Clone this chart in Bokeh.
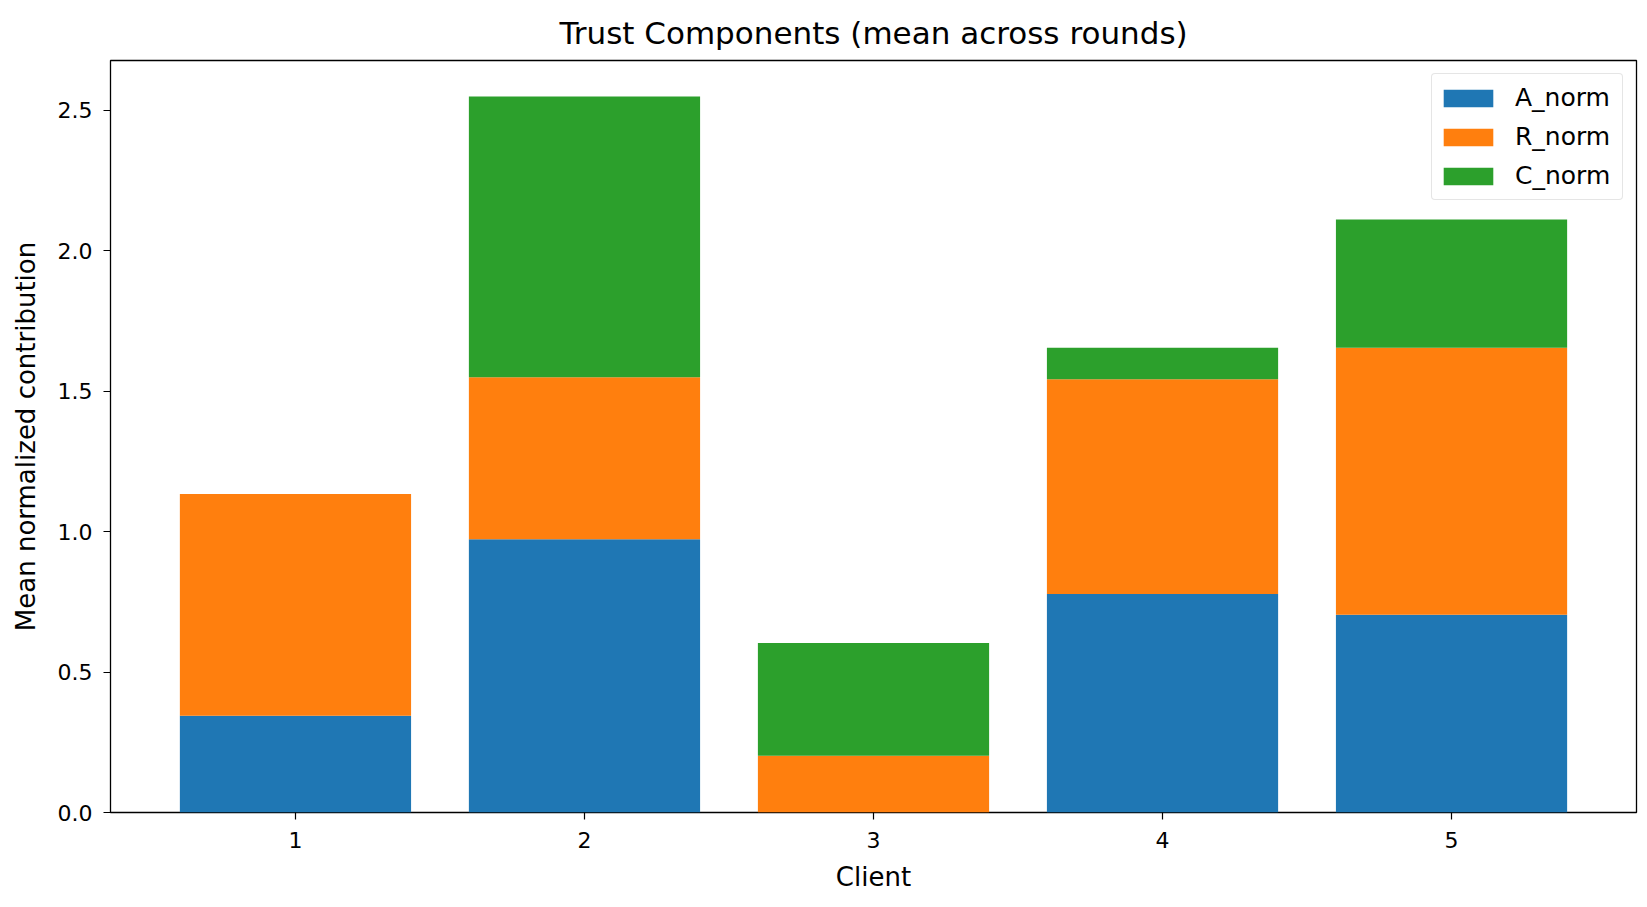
from bokeh.plotting import figure
from bokeh.models import ColumnDataSource, FixedTicker, Range1d, Legend, CustomJSTickFormatter
from bokeh.embed import file_html
from bokeh.resources import INLINE

clients = [1, 2, 3, 4, 5]
a_norm = [0.344, 0.973, 0.0, 0.778, 0.704]
r_norm = [0.790, 0.576, 0.202, 0.764, 0.950]
c_norm = [0.0, 1.000, 0.401, 0.112, 0.457]
series = ["A_norm", "R_norm", "C_norm"]
colors = ["#1f77b4", "#ff7f0e", "#2ca02c"]
y_ticks = [0.0, 0.5, 1.0, 1.5, 2.0, 2.5]

src = ColumnDataSource(dict(client=clients, A_norm=a_norm, R_norm=r_norm, C_norm=c_norm))

FONT = "DejaVu Sans"
p = figure(width=1639, height=899, output_backend="svg", toolbar_location=None,
           x_range=Range1d(0.36, 5.64), y_range=Range1d(0, 2.677),
           min_border_left=110, min_border_right=3, min_border_top=60, min_border_bottom=87)

p.title.text = "Trust Components (mean across rounds)"
p.title.text_font = FONT
p.title.text_font_size = "31px"
p.title.text_font_style = "normal"
p.title.align = "center"
p.title.text_color = "black"
p.title.standoff = 19

renderers = p.vbar_stack(series, x="client", width=0.8, source=src, color=colors, line_color=None)

p.xgrid.grid_line_color = None
p.ygrid.grid_line_color = None
p.outline_line_color = "black"
p.outline_line_width = 1.3
p.outline_line_alpha = 1.0

for ax in (p.xaxis[0], p.yaxis[0]):
    ax.axis_line_color = None
    ax.major_tick_line_color = "black"
    ax.major_tick_line_width = 1.2
    ax.major_tick_in = 0
    ax.major_tick_out = 7
    ax.minor_tick_line_color = None
    ax.major_label_text_font = FONT
    ax.major_label_text_font_size = "22px"
    ax.major_label_text_color = "black"
    ax.axis_label_text_font = FONT
    ax.axis_label_text_font_size = "26px"
    ax.axis_label_text_font_style = "normal"
    ax.axis_label_text_color = "black"

p.xaxis[0].ticker = FixedTicker(ticks=clients)
p.yaxis[0].ticker = FixedTicker(ticks=y_ticks)
p.yaxis[0].formatter = CustomJSTickFormatter(code="return tick.toFixed(1);")
p.xaxis[0].axis_label = "Client"
p.yaxis[0].axis_label = "Mean normalized contribution"
p.xaxis[0].major_label_standoff = 12
p.xaxis[0].axis_label_standoff = 11
p.yaxis[0].major_label_standoff = 11
p.yaxis[0].axis_label_standoff = 14

legend = Legend(items=[(s, [r]) for s, r in zip(series, renderers)], location="top_right")
legend.label_text_font = FONT
legend.label_text_font_size = "25px"
legend.label_text_color = "black"
legend.glyph_width = 62
legend.glyph_height = 22
legend.label_height = 37
legend.label_width = 102
legend.spacing = 2
legend.padding = 5
legend.margin = 13
legend.label_standoff = 16
legend.border_line_color = "#cccccc"
legend.border_line_width = 1
legend.background_fill_alpha = 0.8
legend.border_radius = 4
p.add_layout(legend)

open("out.html", "w").write(file_html(p, INLINE))
